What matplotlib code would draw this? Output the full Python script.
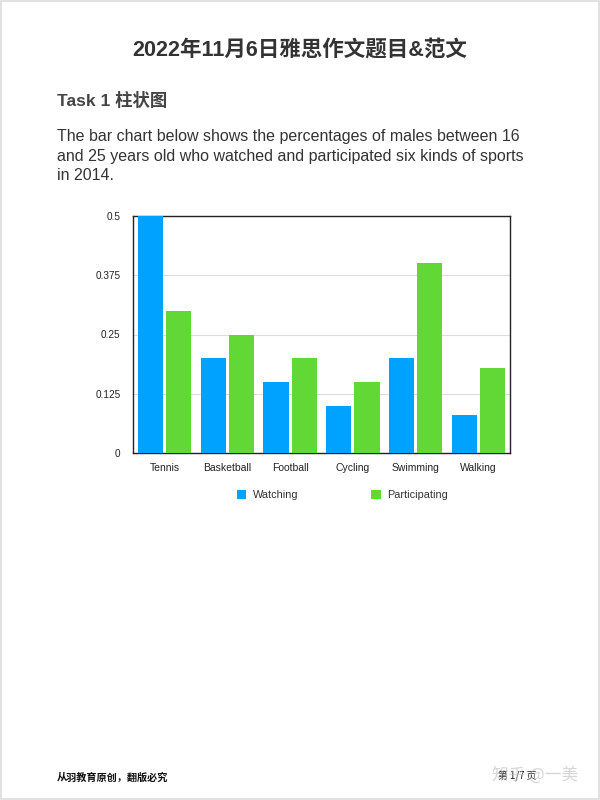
import matplotlib
matplotlib.use("Agg")
import matplotlib.pyplot as plt
import numpy as np
from matplotlib.patches import Rectangle

plt.rcParams['font.family'] = ['Liberation Sans', 'Noto Sans CJK SC', 'DejaVu Sans']

categories = ["Tennis", "Basketball", "Football", "Cycling", "Swimming", "Walking"]
watching = [0.5, 0.2, 0.15, 0.1, 0.2, 0.08]
participating = [0.3, 0.25, 0.2, 0.15, 0.4, 0.18]
yticks = [0, 0.125, 0.25, 0.375, 0.5]
ytick_labels = ["0", "0.125", "0.25", "0.375", "0.5"]
series_names = ["Watching", "Participating"]

BLUE = "#00A2FF"
GREEN = "#61D836"

fig = plt.figure(figsize=(6, 8), dpi=100)
fig.patch.set_facecolor("white")

# page border
fig.add_artist(Rectangle((0.002, 0.001), 0.996, 0.998, transform=fig.transFigure,
                         fill=False, edgecolor="#dddddd", linewidth=1.2))

mixed = ['Liberation Sans', 'Noto Sans CJK SC', 'DejaVu Sans']
cjk = ['Noto Sans CJK SC', 'DejaVu Sans']
fig.text(0.5, 1 - 50 / 800, "2022年11月6日雅思作文题目&范文", ha="center", va="center",
         fontsize=15.5, fontweight="bold", color="#333333", family=mixed)
fig.text(57 / 600, 1 - 100 / 800, "Task 1 柱状图", ha="left", va="center",
         fontsize=12.5, fontweight="bold", color="#444444", family=mixed)

para = ["The bar chart below shows the percentages of males between 16",
        "and 25 years old who watched and participated six kinds of sports",
        "in 2014."]
for i, line in enumerate(para):
    fig.text(57 / 600, 1 - (137 + 19 * i) / 800, line, ha="left", va="center",
             fontsize=11.5, color="#333333", family=['Liberation Sans'])

ax = fig.add_axes([133 / 600, 1 - 453 / 800, (510 - 133) / 600, (453 - 216) / 800])
x = np.arange(len(categories))
w = 0.4
gap = 0.048
ax.bar(x - w / 2 - gap / 2, watching, width=w, color=BLUE, zorder=3, label=series_names[0])
ax.bar(x + w / 2 + gap / 2, participating, width=w, color=GREEN, zorder=3, label=series_names[1])
ax.set_xlim(-0.5, len(categories) - 0.5)
ax.set_ylim(0, 0.5)
ax.set_yticks(yticks)
ax.set_yticklabels(ytick_labels)
ax.set_xticks(x)
ax.set_xticklabels(categories)
ax.tick_params(axis="both", length=0, labelsize=7.5, colors="#222222")
ax.tick_params(axis="y", labelsize=7.2, pad=9)
ax.tick_params(axis="x", pad=7)
ax.grid(axis="y", color="#dddddd", linewidth=0.8, zorder=0)
for s in ax.spines.values():
    s.set_color("#222222")
    s.set_linewidth(1.0)

leg = ax.legend(loc="upper center", bbox_to_anchor=(0.555, -0.115), ncol=2, frameon=False,
                fontsize=7.8, handlelength=0.9, handleheight=0.9, columnspacing=6.7,
                handletextpad=0.6)
for t in leg.get_texts():
    t.set_color("#333333")

fig.text(57 / 600, 1 - 778 / 800, "从羽教育原创，翻版必究", ha="left", va="center",
         fontsize=7.3, fontweight="bold", color="#111111", family=cjk)
fig.text(517 / 600, 1 - 776 / 800, "第 1/7 页", ha="center", va="center",
         fontsize=7, color="#222222", family=cjk)
fig.text(535 / 600, 1 - 775 / 800, "知乎 @一美", ha="center", va="center",
         fontsize=12, color="#bbbbbb", alpha=0.6, family=cjk)

fig.savefig("out.png", dpi=100, facecolor="white")
